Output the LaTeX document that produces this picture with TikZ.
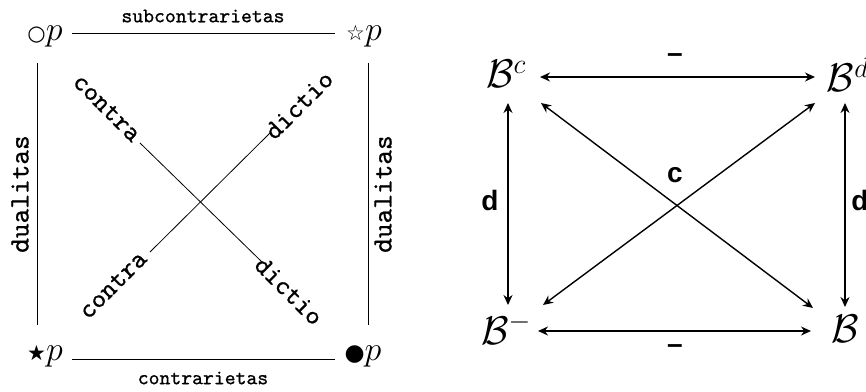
\RequirePackage{fix-cm}
\documentclass[tikz,border=0pt]{standalone}
\usepackage{fontspec}
\usetikzlibrary{arrows.meta}
\newfontfamily\symfont{DejaVu Sans}
\newfontfamily\labfont{Liberation Sans}
\newfontfamily\ttheavy{lmmono10-regular.otf}[FakeBold=0.8]
\begin{document}
\begin{tikzpicture}[x=1pt,y=-1pt,
  sq/.style={inner sep=0pt, anchor=base, font=\fontsize{34}{36}\selectfont},
  ttl/.style={font=\fontsize{20.7}{22}\selectfont\ttheavy, inner sep=0pt},
  ttb/.style={font=\fontsize{27}{29}\selectfont\ttheavy, inner sep=0pt},
  ttd/.style={font=\fontsize{28}{30}\selectfont\ttheavy, inner sep=0pt, rotate=90},
  thinline/.style={line width=0.8pt},
  bnode/.style={inner sep=0pt, font=\fontsize{40}{44}\selectfont},
  arr/.style={line width=1.4pt, {Stealth[length=10pt,width=9pt]}-{Stealth[length=10pt,width=9pt]}},
  lab/.style={font=\fontsize{28}{30}\selectfont\labfont\bfseries, inner sep=0pt}
]
\clip (0,0) rectangle (866,391);
\fill[white] (0,0) rectangle (866,391);
% left square
\node[sq] (op) at (45,40) {{\symfont\fontsize{21}{22}\selectfont ○}$p$};
\node[sq] (sp) at (364,40) {{\symfont\fontsize{21}{22}\selectfont ☆}$p$};
\node[sq] (bp) at (45,360) {{\symfont\fontsize{21}{22}\selectfont ★}$p$};
\node[sq] (wp) at (363,360) {{\symfont\fontsize{23}{24}\selectfont ●}$p$};
\node[ttl] (subc) at (203,16) {subcontrarietas};
\node[ttl] (contr) at (203,378) {contrarietas};
\node[ttd] (dualL) at (20,194) {dualitas};
\node[ttd] (dualR) at (383,194) {dualitas};
\node[ttb, rotate=-45] (cTL) at (107,108) {contra};
\node[ttb, rotate=-45] (dBR) at (289,291) {dictio};
\node[ttb, rotate=45] (cBL) at (113,285) {contra};
\node[ttb, rotate=45] (dTR) at (299,105) {dictio};
\draw[thinline] ([shift={(27,-7)}]op.base) -- ([shift={(-29,-7)}]sp.base);
\draw[thinline] ([shift={(27,-1)}]bp.base) -- ([shift={(-28,-1)}]wp.base);
\draw[thinline] ([shift={(-8,23)}]op.base) -- ([shift={(-8,-35)}]bp.base);
\draw[thinline] ([shift={(4,23)}]sp.base) -- ([shift={(5,-35)}]wp.base);
\draw[thinline] ([shift={(33,35)}]cTL.center) -- ([shift={(-27,-29)}]dBR.center);
\draw[thinline] ([shift={(37,-33)}]cBL.center) -- ([shift={(-29,28)}]dTR.center);
% right diagram
\node[bnode] (Bc) at (506,74) {$\mathcal{B}^c$};
\node[bnode] (Bd) at (848,75) {$\mathcal{B}^d$};
\node[bnode] (Bm) at (506,329) {$\mathcal{B}^-$};
\node[bnode] (B) at (845,329) {$\mathcal{B}$};
\draw[arr] ([shift={(34,3)}]Bc.center) -- ([shift={(-33,2)}]Bd.center);
\draw[arr] ([shift={(32,2)}]Bm.center) -- ([shift={(-34,2)}]B.center);
\draw[arr] ([shift={(2,29)}]Bc.center) -- ([shift={(2,-24)}]Bm.center);
\draw[arr] ([shift={(-3,28)}]Bd.center) -- ([shift={(0,-22)}]B.center);
\draw[arr] ([shift={(35,29)}]Bc.center) -- ([shift={(-32,-21)}]B.center);
\draw[arr] ([shift={(37,-24)}]Bm.center) -- ([shift={(-33,28)}]Bd.center);
\node[lab] (mtop) at (675,58) {–};
\node[lab] (mbot) at (675,349) {–};
\node[lab] (dL) at (490,200) {d};
\node[lab] (dR) at (860,200) {d};
\node[lab] (cc) at (675,175) {c};
\end{tikzpicture}
\end{document}
